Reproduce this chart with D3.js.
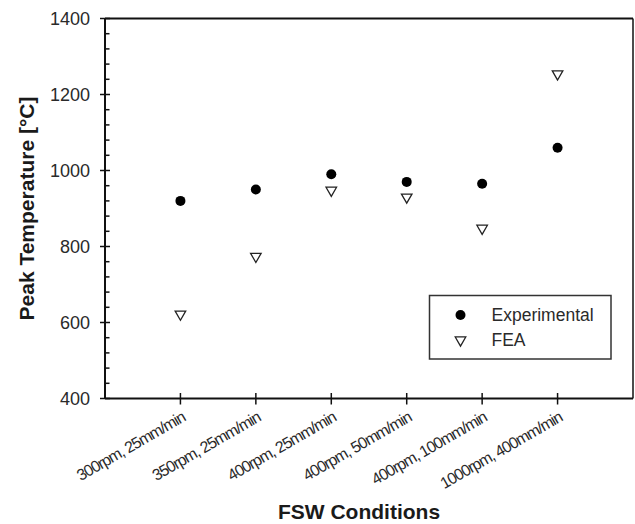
<!DOCTYPE html>
<html><head><meta charset="utf-8">
<script src="https://cdn.jsdelivr.net/npm/d3@7"></script>
<style>body{margin:0;background:#fff}svg{display:block}text{font-family:"Liberation Sans",Arial,sans-serif}</style>
</head><body><svg id="c" width="635" height="524"></svg>
<script>
const categories = ["300rpm, 25mm/min","350rpm, 25mm/min","400rpm, 25mm/min","400rpm, 50mm/min","400rpm, 100mm/min","1000rpm, 400mm/min"];
const experimental = [920, 950, 990, 970, 965, 1060];
const fea = [622, 774, 948, 930, 848, 1254];
const yTicks = [400, 600, 800, 1000, 1200, 1400];
const seriesNames = ["Experimental", "FEA"];

const svg = d3.select("#c");
const L = 105, R = 633, T = 18.5, B = 398.5;
const x = d3.scaleLinear().domain([0, 7]).range([L, R]);
const y = d3.scaleLinear().domain([400, 1400]).range([B, T]);
const ink = "#111";

// frame top/right
svg.append("line").attr("x1", L).attr("x2", R).attr("y1", T).attr("y2", T).attr("stroke", ink).attr("stroke-width", 2);
svg.append("line").attr("x1", R).attr("x2", R).attr("y1", T).attr("y2", B).attr("stroke", ink).attr("stroke-width", 1.5);

// y axis
const yAx = svg.append("g").attr("transform", `translate(${L},0)`);
yAx.append("line").attr("y1", T).attr("y2", B).attr("stroke", ink).attr("stroke-width", 2);
d3.range(400, 1401, 40).forEach(v => {
  const major = v % 200 === 0;
  yAx.append("line").attr("x1", major ? -5 : 0).attr("x2", major ? 5 : 4.5)
    .attr("y1", y(v)).attr("y2", y(v)).attr("stroke", ink).attr("stroke-width", 1.5);
});
yAx.selectAll("text.yt").data(yTicks).join("text").attr("class","yt")
  .attr("x", -15).attr("y", d => y(d)).attr("dy", "0.36em").attr("text-anchor", "end")
  .attr("font-size", 18).attr("fill", "#2a2a2a").text(d => d);

// x axis
const xAx = svg.append("g");
xAx.append("line").attr("x1", L).attr("x2", R).attr("y1", B).attr("y2", B).attr("stroke", ink).attr("stroke-width", 2);
categories.forEach((c, i) => {
  const xx = x(i + 1);
  xAx.append("line").attr("x1", xx).attr("x2", xx).attr("y1", B - 5.5).attr("y2", B + 6).attr("stroke", ink).attr("stroke-width", 1.5);
  xAx.append("text").attr("transform", `translate(${xx + 3},${B + 17}) rotate(-30)`)
    .attr("text-anchor", "end").attr("dy", "0.35em").attr("font-size", 16).attr("letter-spacing", -1)
    .attr("fill", "#2a2a2a").text(c);
});

// titles
svg.append("text").attr("transform", `translate(34,${(T + B) / 2}) rotate(-90)`)
  .attr("text-anchor", "middle").attr("font-size", 21).attr("font-weight", "bold").attr("fill", "#1a1a1a")
  .text("Peak Temperature [°C]");
svg.append("text").attr("x", 359).attr("y", 519).attr("text-anchor", "middle")
  .attr("font-size", 21).attr("font-weight", "bold").attr("fill", "#1a1a1a").text("FSW Conditions");

// markers
const tri = d3.symbol().type(d3.symbolTriangle).size(48);
svg.selectAll("path.fea").data(fea).join("path").attr("class", "fea")
  .attr("d", tri).attr("transform", (d, i) => `translate(${x(i + 1)},${y(d)}) rotate(180)`)
  .attr("fill", "#fff").attr("stroke", "#222").attr("stroke-width", 1.3);
svg.selectAll("circle.exp").data(experimental).join("circle").attr("class", "exp")
  .attr("cx", (d, i) => x(i + 1)).attr("cy", d => y(d)).attr("r", 5).attr("fill", "#000");

// legend
const lg = svg.append("g");
lg.append("rect").attr("x", 429.5).attr("y", 295.5).attr("width", 181.5).attr("height", 63.5)
  .attr("fill", "#fff").attr("stroke", "#333").attr("stroke-width", 1.5);
lg.append("circle").attr("cx", 460.5).attr("cy", 315).attr("r", 5).attr("fill", "#000");
lg.append("path").attr("d", tri).attr("transform", "translate(460.5,340) rotate(180)")
  .attr("fill", "#fff").attr("stroke", "#222").attr("stroke-width", 1.3);
lg.selectAll("text").data(seriesNames).join("text").attr("x", 491.5).attr("y", (d, i) => 315 + i * 25)
  .attr("dy", "0.36em").attr("font-size", 17.5).attr("fill", "#2a2a2a").text(d => d);
</script></body></html>
